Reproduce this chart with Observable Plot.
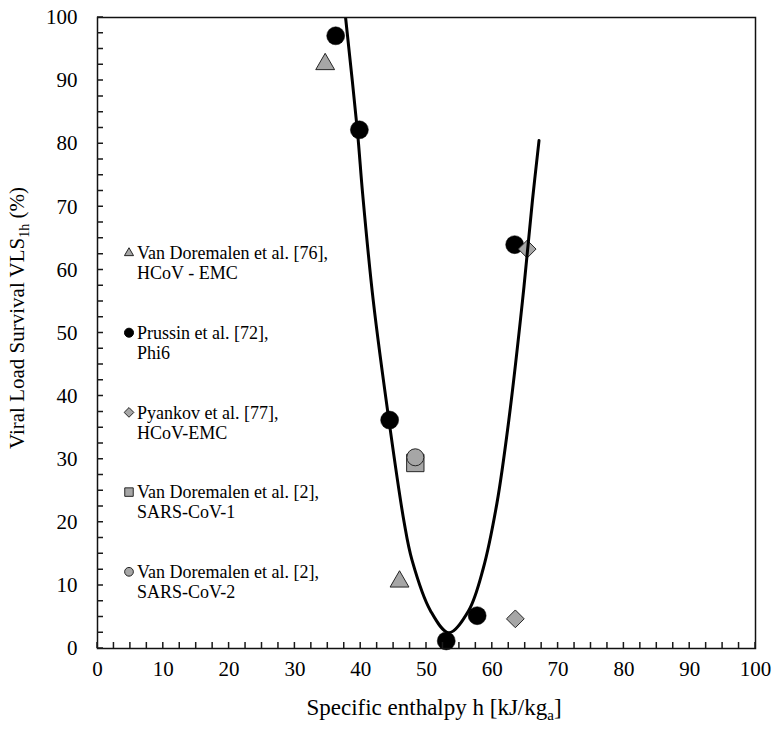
<!DOCTYPE html>
<html><head><meta charset="utf-8">
<script src="https://cdn.jsdelivr.net/npm/d3@7"></script>
<script src="https://cdn.jsdelivr.net/npm/@observablehq/plot@0.6"></script>
<style>body{margin:0;background:#fff;} #chart{width:781px;height:729px;}</style>
</head><body><div id="chart"></div>
<script>
// Data
const prussinX = [36.2, 39.8, 44.4, 53.0, 57.7, 63.4];
const prussinY = [97.1, 82.2, 36.2, 1.2, 5.2, 64.0];
const vd76X = [34.6, 45.9];
const vd76Y = [92.6, 10.6];
const pyankovX = [63.5, 65.3];
const pyankovY = [4.7, 63.3];
const vdCov1X = [48.3];
const vdCov1Y = [29.4];
const vdCov2X = [48.3];
const vdCov2Y = [30.3];
// trend curve, points
const curveX = [37.7, 39.5, 40.3, 41.9, 44.3, 46.6, 47.8, 50.6, 53.4, 56.4, 58.6, 60.7, 62.5, 64.6, 66.1, 67.1];
const curveY = [100, 82.0, 72.0, 55.2, 36.1, 20.0, 14.0, 6.0, 2.5, 6.0, 12.6, 23.0, 36.1, 55.2, 71.0, 80.5];
const xTickLabels = [0, 10, 20, 30, 40, 50, 60, 70, 80, 90, 100];
const yTickLabels = [0, 10, 20, 30, 40, 50, 60, 70, 80, 90, 100];
const minorTicks = [0, 2.5, 5, 7.5, 10, 12.5, 15, 17.5, 20, 22.5, 25, 27.5, 30, 32.5, 35, 37.5, 40, 42.5, 45, 47.5, 50,
  52.5, 55, 57.5, 60, 62.5, 65, 67.5, 70, 72.5, 75, 77.5, 80, 82.5, 85, 87.5, 90, 92.5, 95, 97.5, 100];
const legendNames = [
  ["Van Doremalen et al. [76],", "HCoV - EMC"],
  ["Prussin et al. [72],", "Phi6"],
  ["Pyankov et al. [77],", "HCoV-EMC"],
  ["Van Doremalen et al. [2],", "SARS-CoV-1"],
  ["Van Doremalen et al. [2],", "SARS-CoV-2"]
];
const xTitle = "Specific enthalpy h [kJ/kg";
const xTitleSub = "a";
const yTitle = "Viral Load Survival VLS";
const yTitleSub = "1h";

const zip = (xs, ys) => xs.map((x, i) => ({x, y: ys[i]}));
const prussin = zip(prussinX, prussinY);
const vd76 = zip(vd76X, vd76Y);
const pyankov = zip(pyankovX, pyankovY);
const vdCov1 = zip(vdCov1X, vdCov1Y);
const vdCov2 = zip(vdCov2X, vdCov2Y);
const curve = zip(curveX, curveY);

const GRAY = "#a6a6a6", EDGE = "#262626";
const FONT = "'Liberation Serif', serif";
const W = 781, H = 729, ML = 97, MR = 26, MT = 17, MB = 81;
const TICK = 6;

const chart = Plot.plot({
  width: W, height: H,
  marginLeft: ML, marginRight: MR, marginTop: MT, marginBottom: MB,
  style: {fontFamily: FONT, fontSize: "21px", background: "#fff", color: "#000"},
  x: {domain: [0, 100]},
  y: {domain: [0, 100]},
  marks: [
    Plot.dot(vd76, {x: "x", y: "y", symbol: "triangle", r: 7, fill: GRAY, stroke: EDGE, strokeWidth: 1}),
    Plot.dot(prussin, {x: "x", y: "y", symbol: "circle", r: 9, fill: "#000", stroke: "#000", strokeWidth: 0.5}),
    Plot.dot(pyankov, {x: "x", y: "y", symbol: "diamond2", r: 8, fill: GRAY, stroke: EDGE, strokeWidth: 1}),
    Plot.dot(vdCov1, {x: "x", y: "y", symbol: "square", r: 9.8, fill: GRAY, stroke: EDGE, strokeWidth: 1}),
    Plot.dot(vdCov2, {x: "x", y: "y", symbol: "circle", r: 8.5, fill: GRAY, stroke: EDGE, strokeWidth: 1}),
    Plot.line(curve, {x: "x", y: "y", curve: "catmull-rom", stroke: "#000", strokeWidth: 3, clip: true}),
    Plot.axisX({ticks: xTickLabels, tickSize: 0, tickPadding: 13, fontSize: 21, label: null}),
    Plot.axisY({ticks: yTickLabels, tickSize: 0, tickPadding: 20, fontSize: 21, label: null}),
    Plot.frame({stroke: "#111", strokeWidth: 1.5})
  ]
});
document.getElementById("chart").appendChild(chart);

const svg = d3.select(chart);
svg.selectAll("text").style("font-family", FONT);

// inward tick marks placed through the plot's own scales
const sx = chart.scale("x"), sy = chart.scale("y");
const fx = sx && sx.apply ? (v => sx.apply(v)) : d3.scaleLinear(sx.domain, sx.range);
const fy = sy && sy.apply ? (v => sy.apply(v)) : d3.scaleLinear(sy.domain, sy.range);
let path = "";
minorTicks.forEach(v => {
  const px = fx(v), py = fy(v);
  path += `M${px},${H - MB}V${H - MB - TICK}`;
  path += `M${ML},${py}H${ML + TICK}`;
});
svg.append("path").attr("d", path).attr("fill", "none")
  .style("stroke", "#1a1a1a").style("stroke-width", "1.5px");

// x title
const xt = svg.append("text").attr("x", 434).attr("y", 715).attr("text-anchor", "middle")
  .style("font-family", FONT).attr("font-size", 23).attr("fill", "#000");
xt.append("tspan").text(xTitle);
xt.append("tspan").attr("font-size", 15).attr("dy", 5).text(xTitleSub);
xt.append("tspan").attr("dy", -5).text("]");
// y title
const yt = svg.append("text").attr("transform", "translate(24,318) rotate(-90)").attr("text-anchor", "middle")
  .style("font-family", FONT).attr("font-size", 21).attr("fill", "#000");
yt.append("tspan").text(yTitle);
yt.append("tspan").attr("font-size", 14).attr("dy", 5).text(yTitleSub);
yt.append("tspan").attr("dy", -5).text(" (%)");

// legend
const legendSymbols = [
  {type: d3.symbolTriangle, size: 36, fill: GRAY, stroke: EDGE},
  {type: d3.symbolCircle, size: 64, fill: "#000", stroke: "#000"},
  {type: d3.symbolDiamond2, size: 60, fill: GRAY, stroke: EDGE},
  {type: d3.symbolSquare, size: 72, fill: GRAY, stroke: EDGE},
  {type: d3.symbolCircle, size: 60, fill: GRAY, stroke: EDGE}
];
legendNames.forEach((lines, i) => {
  const cy = 253 + 79.7 * i;
  const s = legendSymbols[i];
  svg.append("path").attr("transform", `translate(129,${cy})`)
    .attr("d", d3.symbol(s.type, s.size)()).attr("fill", s.fill).attr("stroke", s.stroke).attr("stroke-width", 1);
  lines.forEach((t, j) => {
    svg.append("text").attr("x", 137).attr("y", cy + 20 * j).attr("dy", "0.35em")
      .attr("text-anchor", "start")
      .style("font-family", FONT).attr("font-size", 18).attr("fill", "#000").text(t);
  });
});
</script></body></html>
